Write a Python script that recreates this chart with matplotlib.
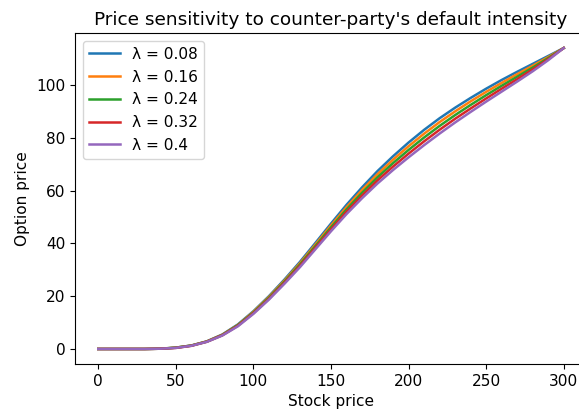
# 상대방 부도 강도(λ)에 따른 옵션 가격 민감도 그래프
import matplotlib
matplotlib.use('Agg')
import matplotlib.pyplot as plt

# --- 1. 데이터 ---
stock_price = [0, 10, 20, 30, 40, 50, 60, 70, 80, 90, 100, 110, 120, 130, 140, 150,
               160, 170, 180, 190, 200, 210, 220, 230, 240, 250, 260, 270, 280, 290, 300]

lambdas = [0.08, 0.16, 0.24, 0.32, 0.4]

price_l008 = [0, 0, 0, 0, 0.1, 0.5, 1.3, 2.9, 5.5, 9.3, 14.3, 20.0, 26.3, 33.0, 40.2, 47.5,
              54.6, 61.2, 67.4, 73.0, 78.2, 83.0, 87.4, 91.4, 95.1, 98.6, 101.9, 105.0, 108.0, 111.0, 114.0]
price_l016 = [0, 0, 0, 0, 0.1, 0.5, 1.3, 2.85, 5.4, 9.1, 14.05, 19.7, 25.9, 32.5, 39.6, 46.8,
              53.7, 60.2, 66.2, 71.7, 76.8, 81.55, 85.95, 90.0, 93.8, 97.4, 100.8, 104.1, 107.3, 110.6, 114.0]
price_l024 = [0, 0, 0, 0, 0.1, 0.5, 1.3, 2.8, 5.3, 9.0, 13.8, 19.35, 25.5, 32.0, 39.0, 46.05,
              52.85, 59.15, 65.05, 70.4, 75.4, 80.1, 84.5, 88.6, 92.45, 96.15, 99.7, 103.15, 106.6, 110.2, 114.0]
price_l032 = [0, 0, 0, 0, 0.1, 0.4, 1.2, 2.75, 5.2, 8.8, 13.55, 19.0, 25.1, 31.5, 38.4, 45.3,
              52.0, 58.1, 63.9, 69.1, 74.0, 78.65, 83.05, 87.2, 91.1, 94.9, 98.6, 102.2, 105.9, 109.8, 114.0]
price_l040 = [0, 0, 0, 0, 0.1, 0.4, 1.2, 2.7, 5.1, 8.6, 13.3, 18.7, 24.7, 31.0, 37.8, 44.6,
              51.1, 57.1, 62.7, 67.8, 72.6, 77.2, 81.6, 85.8, 89.8, 93.7, 97.5, 101.3, 105.2, 109.4, 114.0]

prices = [price_l008, price_l016, price_l024, price_l032, price_l040]

# --- 2. 시각화 ---
plt.rcParams['font.size'] = 11.1
plt.rcParams['lines.linewidth'] = 1.8

fig = plt.figure(figsize=(5.79, 4.13), dpi=100)
ax = fig.add_axes([0.1295, 0.1186, 0.8843, 0.8015])

for lam, p in zip(lambdas, prices):
    ax.plot(stock_price, p, label=f'λ = {lam}')

ax.set_title("Price sensitivity to counter-party's default intensity")
ax.set_xlabel('Stock price')
ax.set_ylabel('Option price')
ax.legend(loc='upper left')

fig.savefig('out.png', dpi=100)
